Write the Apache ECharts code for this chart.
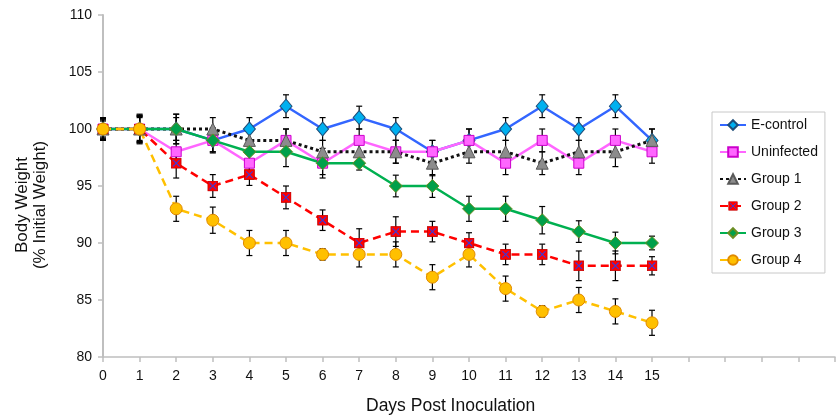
<!DOCTYPE html>
<html>
<head>
<meta charset="utf-8">
<title>Body Weight</title>
<script src="https://cdn.jsdelivr.net/npm/echarts@6/dist/echarts.min.js"></script>
<style>
  html, body { margin: 0; padding: 0; background: #fff; }
  #chart { width: 838px; height: 419px; }
</style>
</head>
<body>
<div id="chart"></div>
<script>
// Days post inoculation (x positions of every point)
const days = [0, 1, 2, 3, 4, 5, 6, 7, 8, 9, 10, 11, 12, 13, 14, 15];

// Mean body weight, % of initial weight
const eControl   = [100, 100, 100, 99, 100, 102, 100, 101, 100, 98, 99, 100, 102, 100, 102, 99];
const uninfected = [100, 100, 98, 99, 97, 99, 97, 99, 98, 98, 99, 97, 99, 97, 99, 98];
const group1     = [100, 100, 100, 100, 99, 99, 98, 98, 98, 97, 98, 98, 97, 98, 98, 99];
const group2     = [100, 100, 97, 95, 96, 94, 92, 90, 91, 91, 90, 89, 89, 88, 88, 88];
const group3     = [100, 100, 100, 99, 98, 98, 97, 97, 95, 95, 93, 93, 92, 91, 90, 90];
const group4     = [100, 100, 93, 92, 90, 90, 89, 89, 89, 87, 89, 86, 84, 85, 84, 83];

// Error (± SD) for each mean
const eControlErr   = [0.9, 1.2, 1.0, 1.0, 1.0, 1.0, 1.0, 1.0, 1.0, 1.0, 1.0, 1.0, 1.0, 1.0, 1.0, 1.0];
const uninfectedErr = [0.7, 1.1, 1.0, 1.0, 1.0, 1.0, 1.0, 1.0, 1.0, 1.0, 1.0, 1.0, 1.0, 1.0, 1.0, 1.0];
const group1Err     = [0.9, 1.2, 1.3, 1.0, 1.0, 1.0, 1.0, 1.0, 1.0, 1.1, 1.0, 1.0, 1.0, 1.0, 1.3, 1.0];
const group2Err     = [0.9, 1.3, 1.3, 1.0, 0.95, 1.0, 0.9, 1.25, 1.3, 0.9, 0.9, 0.9, 0.9, 1.3, 1.3, 0.8];
const group3Err     = [0.8, 1.0, 1.3, 1.1, 1.0, 1.3, 1.3, 0.6, 0.95, 1.0, 1.1, 1.1, 1.2, 0.95, 0.95, 0.6];
const group4Err     = [1.0, 1.1, 1.1, 1.15, 1.1, 1.1, 0.5, 1.1, 1.1, 1.1, 1.1, 1.1, 0.5, 1.1, 1.1, 1.1];

// Axis ticks
const xMin = 0, xMax = 20, xStep = 1, xLastLabel = 15;
const yMin = 80, yMax = 110, yStep = 5;

const FONT = '"Liberation Sans", Arial, sans-serif';

// Red square with a blue cross for Group 2
const g2Svg = "<svg xmlns='http://www.w3.org/2000/svg' width='20' height='20' viewBox='0 0 20 20'>" +
  "<rect x='1' y='1' width='18' height='18' fill='#FF0000' stroke='#C00000' stroke-width='1.5'/>" +
  "<path d='M4 4L16 16M16 4L4 16' stroke='#3A3AD8' stroke-width='2'/></svg>";
const g2Symbol = 'image://data:image/svg+xml;charset=utf-8,' + encodeURIComponent(g2Svg);

const groups = [
  { name: 'E-control',  values: eControl,   err: eControlErr,
    line: { color: '#3366FF', width: 2.5, type: 'solid' },
    symbol: 'diamond', size: [12, 14], fill: '#00B0F0', border: '#1F4E79' },
  { name: 'Uninfected', values: uninfected, err: uninfectedErr,
    line: { color: '#FF66FF', width: 2.5, type: 'solid' },
    symbol: 'rect', size: 10, fill: '#FF66FF', border: '#CC00CC' },
  { name: 'Group 1',    values: group1,     err: group1Err,
    line: { color: '#111111', width: 3, type: [3, 3] },
    symbol: 'triangle', size: [12, 12], fill: '#8C8C8C', border: '#595959' },
  { name: 'Group 2',    values: group2,     err: group2Err,
    line: { color: '#FF0000', width: 2.5, type: [8, 5] },
    symbol: g2Symbol, size: 11, fill: '#FF0000', border: '#C00000' },
  { name: 'Group 3',    values: group3,     err: group3Err,
    line: { color: '#00B050', width: 2.5, type: 'solid' },
    symbol: 'diamond', size: [13, 13], fill: '#00A04A', border: '#6B8E23' },
  { name: 'Group 4',    values: group4,     err: group4Err,
    line: { color: '#FFC000', width: 2.5, type: [8, 5] },
    symbol: 'circle', size: 12, fill: '#FFC000', border: '#E08A00' }
];

// Error bars: vertical whisker with caps, positioned through the axes
function errorBarRender(params, api) {
  const x = api.value(0), y = api.value(1), e = api.value(2);
  const top = api.coord([x, y + e]);
  const bot = api.coord([x, y - e]);
  const cap = 3;
  const style = { stroke: '#000', lineWidth: 1.2 };
  return {
    type: 'group',
    children: [
      { type: 'line', shape: { x1: top[0], y1: top[1], x2: bot[0], y2: bot[1] }, style: style },
      { type: 'line', shape: { x1: top[0] - cap, y1: top[1], x2: top[0] + cap, y2: top[1] }, style: style },
      { type: 'line', shape: { x1: bot[0] - cap, y1: bot[1], x2: bot[0] + cap, y2: bot[1] }, style: style }
    ]
  };
}

const series = [];
groups.forEach(function (g) {
  series.push({
    name: g.name + ' error',
    type: 'custom',
    renderItem: errorBarRender,
    encode: { x: 0, y: 1 },
    data: days.map(function (d, i) { return [d, g.values[i], g.err[i]]; }),
    z: 3,
    silent: true
  });
});
groups.forEach(function (g) {
  series.push({
    name: g.name,
    type: 'line',
    data: days.map(function (d, i) { return [d, g.values[i]]; }),
    symbol: g.symbol,
    symbolSize: g.size,
    showAllSymbol: true,
    lineStyle: { color: g.line.color, width: g.line.width, type: g.line.type },
    itemStyle: { color: g.fill, borderColor: g.border, borderWidth: 1 },
    z: 4,
    animation: false
  });
});

const chart = echarts.init(document.getElementById('chart'), null, { renderer: 'canvas' });
chart.setOption({
  animation: false,
  backgroundColor: '#fff',
  grid: { left: 103, top: 15, width: 746, height: 342, containLabel: false },
  xAxis: {
    type: 'value',
    min: xMin, max: xMax, interval: xStep,
    axisLine: { show: true, lineStyle: { color: '#BFBFBF', width: 1.5 } },
    axisTick: { show: true, length: 5, lineStyle: { color: '#BFBFBF', width: 1.5 } },
    axisLabel: {
      margin: 12, color: '#111', fontSize: 14, fontFamily: FONT,
      formatter: function (v) { return v <= xLastLabel ? String(v) : ''; }
    },
    splitLine: { show: false }
  },
  yAxis: {
    type: 'value',
    min: yMin, max: yMax, interval: yStep,
    axisLine: { show: true, lineStyle: { color: '#BFBFBF', width: 2 } },
    axisTick: { show: true, length: 5, lineStyle: { color: '#BFBFBF', width: 1.5 } },
    axisLabel: { margin: 11, color: '#111', fontSize: 14, fontFamily: FONT },
    splitLine: { show: false }
  },
  legend: {
    data: groups.map(function (g) { return g.name; }),
    orient: 'vertical',
    left: 712, top: 112,
    padding: [6, 7, 6, 7],
    itemWidth: 26, itemHeight: 12, itemGap: 13,
    borderColor: '#C8C8C8', borderWidth: 1,
    backgroundColor: '#fff',
    textStyle: { fontSize: 14, lineHeight: 14, color: '#111', fontFamily: FONT },
    selectedMode: false
  },
  graphic: [
    {
      type: 'text', left: 366, top: 397,
      style: { text: 'Days Post Inoculation', fontSize: 17.5, fontFamily: FONT, fill: '#111' }
    },
    {
      type: 'text', x: 31, y: 205, rotation: Math.PI / 2,
      style: {
        text: 'Body Weight\n(% Initial Weight)', fontSize: 17, lineHeight: 18,
        fontFamily: FONT, fill: '#111', align: 'center', verticalAlign: 'middle'
      }
    }
  ],
  series: series
});
</script>
</body>
</html>
